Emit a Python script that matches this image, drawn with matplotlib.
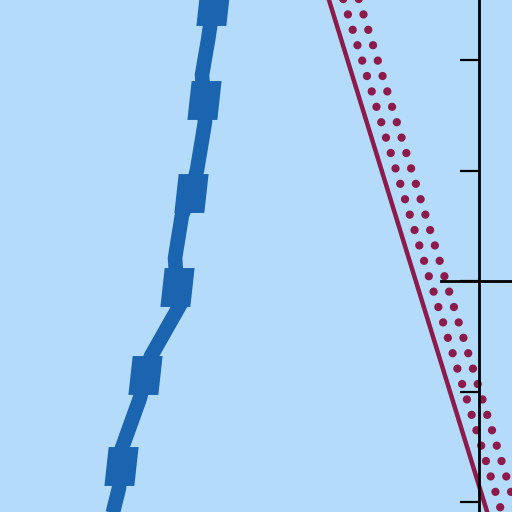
import matplotlib
matplotlib.use("Agg")
import matplotlib.pyplot as plt

# colores
fondo = "#b4dcfa"
azul = "#1a64b0"
granate = "#8c1a4b"

# linea azul gruesa (x, y en unidades de datos)
azul_x = [-2.434, -2.407, -2.452, -2.507, -2.489, -2.480, -2.552, -2.606, -2.688,
          -2.751, -2.733, -2.706, -2.968, -3.023, -3.068, -3.231, -3.240, -3.258, -3.330]
azul_y = [2.633, 2.489, 2.181, 1.864, 1.638, 1.439, 1.005, 0.796, 0.597,
          0.208, -0.054, -0.217, -0.679, -0.851, -1.059, -1.511, -1.674, -1.873, -2.163]

# marcadores sobre la linea azul
marcas_x = [-2.407, -2.489, -2.606, -2.733, -3.023, -3.240]
marcas_y = [2.489, 1.638, 0.796, -0.054, -0.851, -1.674]

# recta granate continua
recta_x = [-1.499, 0.355]
recta_y = [3.0, -3.0]

# dos filas de puntos granates
puntos1_x = [-1.306, 0.270]
puntos1_y = [2.8, -2.3]
puntos2_x = [-1.175, 0.411]
puntos2_y = [2.833, -2.3]

ticks_y = [-2, -1, 0, 1, 2]

fig = plt.figure(figsize=(5.12, 5.12), dpi=100, facecolor=fondo)
ax = fig.add_axes([0, 0, 1, 1])
ax.set_facecolor(fondo)

ax.plot(azul_x, azul_y, color=azul, lw=10.5, solid_joinstyle="miter", solid_capstyle="butt", zorder=2)
paralelogramo = [(-0.44, -0.5), (0.33, -0.5), (0.44, 0.5), (-0.33, 0.5)]
ax.plot(marcas_x, marcas_y, ls="none", marker=paralelogramo, ms=28,
        color=azul, markeredgewidth=0, zorder=2)

ax.plot(recta_x, recta_y, color=granate, lw=3.2, zorder=2)

lw_punto = 6.0
hueco = 11.6 / lw_punto
for px, py in [(puntos1_x, puntos1_y), (puntos2_x, puntos2_y)]:
    ax.plot(px, py, color=granate, lw=lw_punto, ls=(0, (0.001, hueco)),
            dash_capstyle="round", zorder=2)

ax.set_xlim(-4.335, 0.2986)
ax.set_ylim(-2.0905, 2.543)

for s in ["top", "right"]:
    ax.spines[s].set_visible(False)
ax.spines["left"].set_position(("data", 0))
ax.spines["left"].set_linewidth(2.0)
ax.spines["bottom"].set_position(("data", 0))
ax.spines["bottom"].set_bounds(-0.344, 0.3)
ax.spines["bottom"].set_linewidth(2.0)

ax.set_yticks(ticks_y)
ax.set_yticklabels([])
ax.set_xticks([])
ax.tick_params(axis="y", direction="out", length=13.5, width=1.6, color="black")

fig.savefig("out.png", dpi=100, facecolor=fondo)
